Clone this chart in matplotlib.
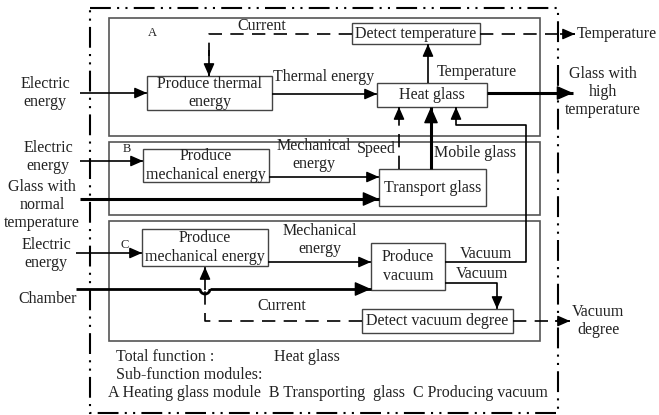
import matplotlib.pyplot as plt
from matplotlib.patches import Rectangle, Arc

plt.rcParams['font.family'] = ['Liberation Serif', 'DejaVu Serif']

# text content of the diagram
module_letters = ['A', 'B', 'C']
function_names = ['Produce thermal\nenergy', 'Detect temperature', 'Heat glass',
                  'Produce\nmechanical energy', 'Transport glass',
                  'Produce\nmechanical energy', 'Produce\nvacuum', 'Detect vacuum degree']
inputs = ['Electric\nenergy', 'Electric\nenergy', 'Glass with\nnormal\ntemperature',
          'Electric\nenergy', 'Chamber']
outputs = ['Temperature', 'Glass with\nhigh\ntemperature', 'Vacuum\ndegree']
flows = ['Current', 'Thermal energy', 'Temperature', 'Mechanical\nenergy', 'Speed',
         'Mobile glass', 'Mechanical\nenergy', 'Vacuum', 'Vacuum', 'Current']
footer = ['Total function :', 'Heat glass', 'Sub-function modules:',
          'A Heating glass module  B Transporting  glass  C Producing vacuum']

fig = plt.figure(figsize=(6.59, 4.15), dpi=100)
ax = fig.add_axes([0, 0, 1, 1])
ax.set_xlim(0, 659)
ax.set_ylim(415, 0)
ax.axis('off')

FS = 11.5
DASH = (0, (8, 5))
TC = '#222222'


def box(x0, y0, x1, y1, lw=1.0, color='#444444', ls='-'):
    ax.add_patch(Rectangle((x0, y0), x1 - x0, y1 - y0, fill=False, lw=lw,
                           edgecolor=color, linestyle=ls))


def line(pts, lw=1.2, ls='-', head=True, hs=15):
    xs = [p[0] for p in pts]
    ys = [p[1] for p in pts]
    ax.plot(xs, ys, color='black', lw=lw, linestyle=ls, solid_capstyle='butt')
    if head:
        (xa, ya), (xb, yb) = pts[-2], pts[-1]
        d = ((xb - xa) ** 2 + (yb - ya) ** 2) ** 0.5
        ux, uy = (xb - xa) / d, (yb - ya) / d
        ax.annotate('', xy=(xb, yb), xytext=(xb - ux * 12, yb - uy * 12),
                    arrowprops=dict(arrowstyle='-|>,head_length=0.5,head_width=0.22',
                                    color='black', lw=1,
                                    mutation_scale=hs, shrinkA=0, shrinkB=0))


def text(x, y, s, ha='center', size=FS):
    ax.text(x, y, s, ha=ha, va='center', fontsize=size, linespacing=1.2, color=TC)


# outer dash-dot frame
ax.add_patch(Rectangle((90, 8), 468, 405, fill=False, lw=1.5, edgecolor='black',
                       linestyle=(0, (10, 3, 1, 3, 1, 3))))

# module boxes
box(109, 18, 540, 136, lw=1.2, color='#555555')
box(109, 142, 540, 215, lw=1.2, color='#555555')
box(109, 221, 540, 341, lw=1.2, color='#555555')
text(152, 33, module_letters[0], size=9)
text(127, 149, module_letters[1], size=9)
text(125, 245, module_letters[2], size=9)

# function boxes
fb = [(147, 76, 272, 110), (352, 23, 480, 44), (377, 83, 487, 107),
      (143, 149, 269, 182), (379, 169, 486, 206),
      (142, 229, 268, 266), (371, 243, 445, 290), (362, 309, 513, 333)]
for (x0, y0, x1, y1), name in zip(fb, function_names):
    box(x0, y0, x1, y1)
    text((x0 + x1) / 2, (y0 + y1) / 2, name)

# module A
line([(80, 93), (147, 93)])
text(45, 93, inputs[0])
line([(352, 34), (209, 34), (209, 76)], ls=DASH, head=False)
line([(209, 50), (209, 76)])
text(262, 26, flows[0])
line([(480, 34), (575, 34)], ls=DASH, head=False)
line([(560, 34), (575, 34)])
text(577, 34, outputs[0], ha='left')
line([(272, 94), (377, 94)])
text(324, 77, flows[1])
line([(428, 83), (428, 44)])
text(437, 72, flows[2], ha='left')
line([(487, 93), (573, 93)], lw=2.2, hs=20)
text(603, 92, outputs[1])

# module B
line([(80, 161), (143, 161)])
text(48, 157, inputs[1])
line([(269, 177), (379, 177)])
text(314, 155, flows[3])
line([(80, 199), (379, 199)], lw=2.2, hs=20)
text(42, 205, inputs[2])
line([(399, 169), (399, 107)], ls=DASH, head=False)
line([(399, 120), (399, 107)])
text(376, 149, flows[4])
line([(431, 169), (431, 107)], lw=2.2, hs=20)
text(475, 153, flows[5])

# module C
line([(76, 253), (142, 253)])
text(46, 254, inputs[3])
line([(268, 262), (371, 262)])
text(320, 240, flows[6])
line([(76, 289), (200, 289)], lw=2.0, head=False)
ax.add_patch(Arc((205, 289), 10, 10, theta1=0, theta2=180, lw=2.0, color='black'))
line([(210, 289), (371, 289)], lw=2.0, hs=20)
text(48, 299, inputs[4])
line([(362, 321), (205, 321), (205, 290)], ls=DASH, head=False)
line([(205, 290), (205, 267)])
text(282, 306, flows[9])
line([(445, 262), (526, 262), (526, 125), (456, 125), (456, 107)])
text(486, 254, flows[7])
line([(445, 283), (497, 283), (497, 309)])
text(482, 274, flows[8])
line([(513, 321), (570, 321)], ls=DASH, head=False)
line([(555, 321), (570, 321)])
text(598, 321, outputs[2])

# footer text
text(116, 357, footer[0], ha='left')
text(274, 357, footer[1], ha='left')
text(116, 375, footer[2], ha='left')
text(108, 393, footer[3], ha='left')

fig.savefig('out.png', dpi=100)
